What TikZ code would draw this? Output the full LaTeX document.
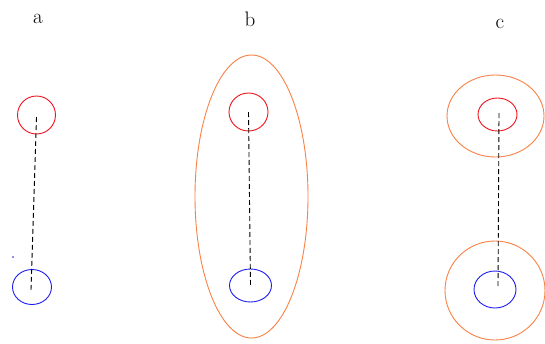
\documentclass[tikz,border=0pt]{standalone}
\usetikzlibrary{shapes.geometric}
\definecolor{myred}{RGB}{240,20,30}
\definecolor{myblue}{RGB}{30,30,240}
\definecolor{myorange}{RGB}{250,130,70}
\tikzset{
  ring/.style={draw, ellipse, inner sep=0pt, line width=0.9pt},
  redring/.style={ring, draw=myred},
  bluering/.style={ring, draw=myblue},
  orangering/.style={ring, draw=myorange},
  link/.style={draw=black, line width=0.9pt, dash pattern=on 5pt off 3pt},
  lbl/.style={font=\fontsize{21}{24}\selectfont, inner sep=0pt, anchor=base}
}
\begin{document}
\begin{tikzpicture}[x=1pt,y=-1pt]
\useasboundingbox[fill=white] (0,0) rectangle (545,343);
% labels
\node[lbl] (la) at (38,23.5) {a};
\node[lbl] (lb) at (250,26) {b};
\node[lbl] (lc) at (500,28) {c};
% panel a
\node[redring, minimum width=38pt, minimum height=38pt] (ra) at (36.5,115) {};
\node[bluering, minimum width=39pt, minimum height=35pt] (ba) at (32,287) {};
\coordinate (ra1) at (36.5,117);
\coordinate (ba1) at (31,290);
\draw[link] (ra1) -- (ba1);
\fill[myblue] (13,257) circle (0.8pt);
% panel b
\node[orangering, minimum width=113pt, minimum height=283pt] (ob) at (251.5,196.5) {};
\node[redring, minimum width=39pt, minimum height=38pt] (rb) at (248.5,112) {};
\node[bluering, minimum width=42pt, minimum height=33pt] (bb) at (250.5,285.5) {};
\draw[link] (rb.center) -- (bb.center);
% panel c
\node[orangering, minimum width=97pt, minimum height=82pt] (oc1) at (495.5,116) {};
\node[orangering, minimum width=100pt, minimum height=99pt] (oc2) at (495,290.5) {};
\node[redring, minimum width=39pt, minimum height=33pt] (rc) at (497.5,114.5) {};
\node[bluering, minimum width=42pt, minimum height=37pt] (bc) at (495,289.5) {};
\coordinate (rc1) at (499,113);
\coordinate (bc1) at (498,287);
\draw[link] (rc1) -- (bc1);
\end{tikzpicture}
\end{document}
